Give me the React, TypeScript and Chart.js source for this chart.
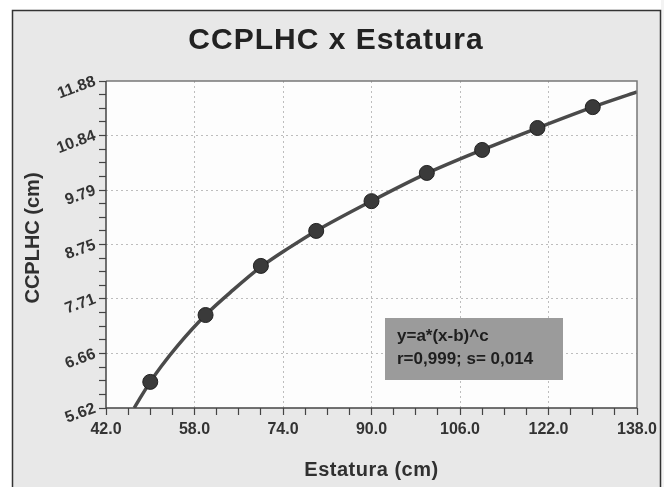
import React, { useEffect, useRef } from 'react';
import { Chart, registerables } from 'chart.js';

Chart.register(...registerables);

// ---- data ----
const estatura = [50, 60, 70, 80, 90, 100, 110, 120, 130];
const ccplhc = [6.12, 7.40, 8.34, 9.01, 9.58, 10.12, 10.56, 10.98, 11.38];
const curveX = [47.1, 48, 50, 52, 55, 60, 65, 70, 75, 80, 90, 100, 110, 120, 130, 138];
const curveY = [5.62, 5.78, 6.12, 6.42, 6.82, 7.40, 7.88, 8.32, 8.68, 9.01, 9.58, 10.11, 10.56, 10.98, 11.38, 11.67];

const xMajorTicks = [42, 58, 74, 90, 106, 122, 138];
const xTickLabels = ['42.0', '58.0', '74.0', '90.0', '106.0', '122.0', '138.0'];
const yMajorTicks = [5.62, 6.66, 7.71, 8.75, 9.79, 10.84, 11.88];
const yTickLabels = ['5.62', '6.66', '7.71', '8.75', '9.79', '10.84', '11.88'];

const titleText = 'CCPLHC x Estatura';
const xTitle = 'Estatura (cm)';
const yTitle = 'CCPLHC (cm)';
const fitLines = ['y=a*(x-b)^c', 'r=0,999; s= 0,014'];

const MINOR = 4;
function withMinor(major: number[]): number[] {
  const out: number[] = [];
  for (let i = 0; i < major.length - 1; i++) {
    const a = major[i];
    const b = major[i + 1];
    for (let k = 0; k < MINOR; k++) out.push(a + ((b - a) * k) / MINOR);
  }
  out.push(major[major.length - 1]);
  return out;
}

const FONT = '"Liberation Sans", Arial, sans-serif';

const decor = {
  id: 'decor',
  beforeDraw(chart: any) {
    const { ctx, chartArea: a } = chart;
    ctx.save();
    ctx.fillStyle = '#ffffff';
    ctx.fillRect(0, 0, 664, 487);
    ctx.fillStyle = '#f3f3f3';
    ctx.fillRect(661, 0, 3, 487);
    ctx.fillStyle = '#e8e8e8';
    ctx.fillRect(12, 10, 649, 477);
    ctx.strokeStyle = '#333';
    ctx.lineWidth = 1.5;
    ctx.beginPath();
    ctx.moveTo(12.5, 487);
    ctx.lineTo(12.5, 10.5);
    ctx.lineTo(660.5, 10.5);
    ctx.lineTo(660.5, 487);
    ctx.stroke();
    ctx.fillStyle = '#fdfdfd';
    ctx.fillRect(a.left, a.top, a.width, a.height);
    ctx.restore();
  },
  afterDraw(chart: any) {
    const { ctx, chartArea: a } = chart;
    ctx.save();
    // plot frame
    ctx.lineWidth = 1.5;
    ctx.strokeStyle = '#777';
    ctx.beginPath();
    ctx.moveTo(a.left, a.top);
    ctx.lineTo(a.right, a.top);
    ctx.lineTo(a.right, a.bottom);
    ctx.stroke();
    ctx.strokeStyle = '#444';
    ctx.beginPath();
    ctx.moveTo(a.left, a.top);
    ctx.lineTo(a.left, a.bottom);
    ctx.lineTo(a.right, a.bottom);
    ctx.stroke();

    // title
    ctx.fillStyle = '#222';
    ctx.textAlign = 'center';
    ctx.textBaseline = 'middle';
    (ctx as any).letterSpacing = '1px';
    ctx.font = `bold 30px ${FONT}`;
    ctx.fillText(titleText, 336, 41);

    // axis titles
    (ctx as any).letterSpacing = '0.5px';
    ctx.font = `bold 20px ${FONT}`;
    ctx.fillStyle = '#303030';
    ctx.fillText(xTitle, (a.left + a.right) / 2, 470);
    ctx.save();
    ctx.translate(33, 238);
    ctx.rotate(-Math.PI / 2);
    (ctx as any).letterSpacing = '0px';
    ctx.fillText(yTitle, 0, 0);
    ctx.restore();

    // fit box
    (ctx as any).letterSpacing = '0px';
    const bx = a.left + 279;
    const by = a.top + 237;
    ctx.fillStyle = '#9b9b9b';
    ctx.fillRect(bx, by, 178, 62);
    ctx.fillStyle = '#1e1e1e';
    ctx.textAlign = 'left';
    ctx.font = `bold 17px ${FONT}`;
    ctx.fillText(fitLines[0], bx + 12, by + 18);
    ctx.fillText(fitLines[1], bx + 12, by + 41);
    ctx.restore();
  },
};

export default function App() {
  const ref = useRef<HTMLCanvasElement | null>(null);
  useEffect(() => {
    if (!ref.current) return;
    const tickFont = { family: FONT, size: 16, weight: 'bold' as const };
    const gridColor = (c: any) =>
      c.index % MINOR === 0 && c.index > 0 && c.index < 24 ? '#bdbdbd' : 'rgba(0,0,0,0)';
    const chart = new Chart(ref.current, {
      type: 'scatter',
      data: {
        datasets: [
          {
            label: 'pontos',
            data: estatura.map((x, i) => ({ x, y: ccplhc[i] })),
            pointRadius: 7.5,
            pointHoverRadius: 7.5,
            backgroundColor: '#3a3a3a',
            borderColor: '#222',
            borderWidth: 1,
            showLine: false,
          },
          {
            label: 'ajuste',
            data: curveX.map((x, i) => ({ x, y: curveY[i] })),
            showLine: true,
            pointRadius: 0,
            borderColor: '#4a4a4a',
            borderWidth: 3.5,
            cubicInterpolationMode: 'monotone',
            fill: false,
          } as any,
        ],
      },
      options: {
        animation: false,
        responsive: false,
        devicePixelRatio: 1,
        events: [],
        layout: { padding: { left: 46, right: 27, top: 81, bottom: 35 } },
        plugins: {
          legend: { display: false },
          tooltip: { enabled: false },
          title: { display: false },
        },
        scales: {
          x: {
            type: 'linear',
            min: 42,
            max: 138,
            afterBuildTicks: (s: any) => {
              s.ticks = withMinor(xMajorTicks).map((v) => ({ value: v }));
            },
            afterFit: (s: any) => {
              s.height = 44;
            },
            ticks: {
              autoSkip: false,
              minRotation: 0,
              maxRotation: 0,
              padding: 5,
              color: '#333',
              font: tickFont,
              callback: (_v: any, i: number) => (i % MINOR === 0 ? xTickLabels[i / MINOR] : ''),
            },
            grid: {
              color: gridColor,
              tickColor: '#444',
              tickLength: 7,
              tickWidth: 1.2,
              lineWidth: 1,
            },
            border: { display: false, dash: [2, 3] },
          },
          y: {
            type: 'linear',
            min: 5.62,
            max: 11.88,
            afterBuildTicks: (s: any) => {
              s.ticks = withMinor(yMajorTicks).map((v) => ({ value: v }));
            },
            afterFit: (s: any) => {
              s.width = 60;
            },
            ticks: {
              autoSkip: false,
              minRotation: 20,
              maxRotation: 20,
              padding: 4,
              color: '#333',
              font: tickFont,
              callback: (_v: any, i: number) => (i % MINOR === 0 ? yTickLabels[i / MINOR] : ''),
            },
            grid: {
              color: gridColor,
              tickColor: '#444',
              tickLength: 7,
              tickWidth: 1.2,
              lineWidth: 1,
            },
            border: { display: false, dash: [2, 3] },
          },
        },
      },
      plugins: [decor],
    });
    return () => chart.destroy();
  }, []);

  return (
    <div style={{ position: 'absolute', left: 0, top: 0, width: 664, height: 487 }}>
      <canvas ref={ref} width={664} height={487} style={{ display: 'block', width: 664, height: 487 }} />
    </div>
  );
}
